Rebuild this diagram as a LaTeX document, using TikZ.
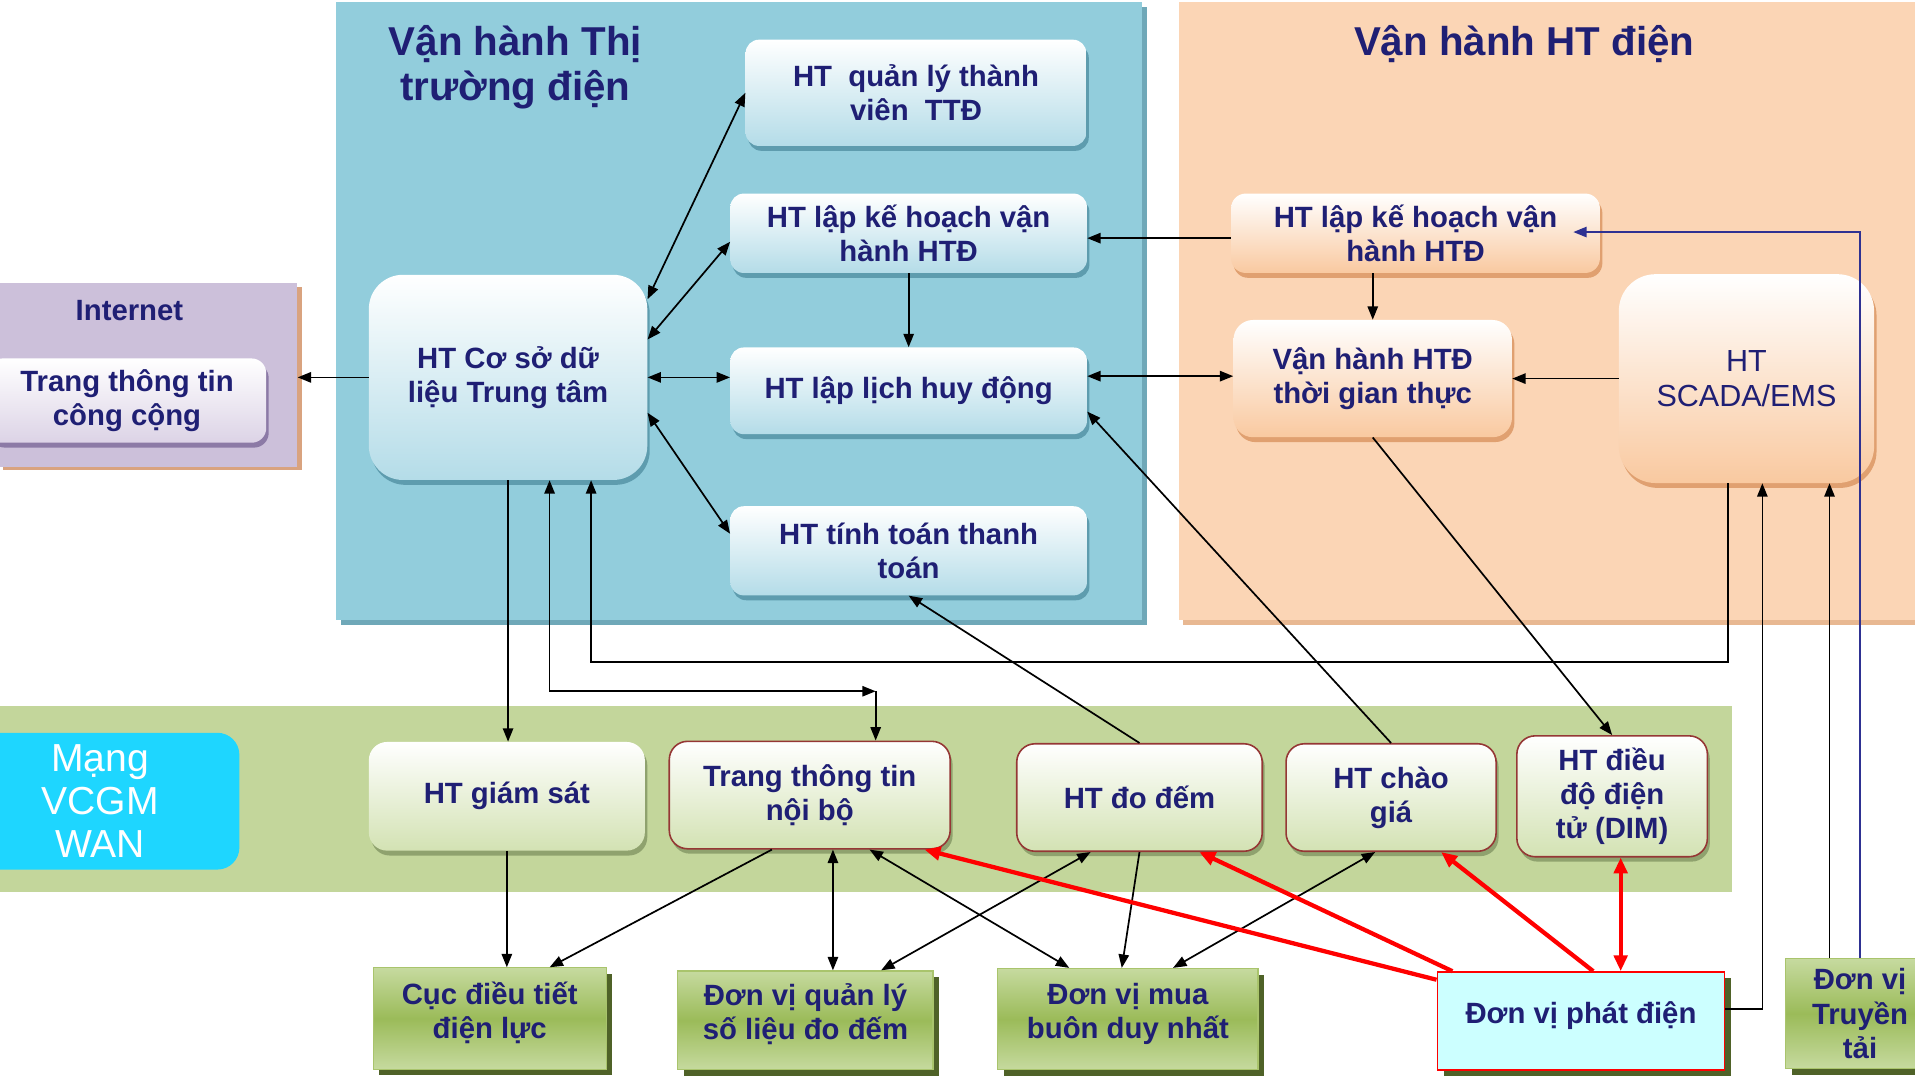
\documentclass[tikz,border=0pt]{standalone}
\usepackage{fontspec}
\setmainfont{Liberation Sans}
\usetikzlibrary{arrows.meta,shadows}
\definecolor{navy}{HTML}{1F1F74}
\definecolor{panelBlue}{HTML}{92CDDC}
\definecolor{panelBlueSh}{HTML}{6FA8B8}
\definecolor{panelOra}{HTML}{FBD5B5}
\definecolor{panelOraSh}{HTML}{E8B892}
\definecolor{panelPur}{HTML}{CCC0DA}
\definecolor{panelPurSh}{HTML}{D9A37F}
\definecolor{band}{HTML}{C3D69B}
\definecolor{mang}{HTML}{1ED6FF}
\definecolor{blueBot}{HTML}{B4DCE8}
\definecolor{blueSh}{HTML}{5E9CAE}
\definecolor{oraBot}{HTML}{F9C9A0}
\definecolor{oraSh}{HTML}{E0A070}
\definecolor{grnBot}{HTML}{D3E2B3}
\definecolor{grnSh}{HTML}{8FA26E}
\definecolor{purBot}{HTML}{DCD3E6}
\definecolor{purSh}{HTML}{8C7AA6}
\definecolor{redBd}{HTML}{953735}
\definecolor{gTop}{HTML}{C6DA9F}
\definecolor{gMid}{HTML}{9BBB59}
\definecolor{gBd}{HTML}{A9C46C}
\definecolor{gSh}{HTML}{4F6228}
\definecolor{pdFill}{HTML}{CCFFFF}
\definecolor{blueLine}{HTML}{2E3192}
\newcommand\boxfnt{\fontsize{24}{28}\selectfont\bfseries}
\newcommand\regfnt{\fontsize{25}{29}\selectfont}
\newcommand\titfnt{\fontsize{33}{37}\selectfont\bfseries}
\newcommand\mangfnt{\fontsize{32}{35}\selectfont}
\newcommand\lowpad{\rule[-14pt]{0pt}{14pt}}
\begin{document}
\begin{tikzpicture}[x=1pt,y=-1pt,
  base/.style={inner sep=2pt, align=center, text=navy, font=\boxfnt},
  panel/.style={inner sep=0pt, draw=none},
  bluebox/.style={base, rounded corners=11pt, top color=white, bottom color=blueBot,
     drop shadow={shadow xshift=2pt, shadow yshift=-4pt, fill=blueSh, opacity=1}},
  orabox/.style={base, rounded corners=12pt, top color=white, bottom color=oraBot,
     drop shadow={shadow xshift=2pt, shadow yshift=-4pt, fill=oraSh, opacity=1}},
  grnbox/.style={base, rounded corners=15pt, top color=white, bottom color=grnBot,
     drop shadow={shadow xshift=2pt, shadow yshift=-4pt, fill=grnSh, opacity=1}},
  redbd/.style={draw=redBd, line width=1.3pt},
  unitbox/.style={base, top color=gTop, bottom color=gTop, middle color=gMid, draw=gBd, line width=1pt,
     drop shadow={shadow xshift=5pt, shadow yshift=-5pt, fill=gSh, opacity=1}},
  arr/.style={draw=black, line width=1.4pt, >={Triangle[length=11pt,width=8.5pt]}},
  rarr/.style={draw=red, line width=3.5pt, >={Triangle[length=13pt,width=11pt]}},
  barr/.style={draw=blueLine, line width=1.5pt, >={Triangle[length=11pt,width=8.5pt]}}
]
\useasboundingbox (0,0) rectangle (1568,882);
\clip (0,0) rectangle (1568,882);
\fill[white] (0,0) rectangle (1568,882);

% panels
\node[panel, fill=panelBlue, minimum width=660pt, minimum height=506pt,
  drop shadow={shadow xshift=4pt, shadow yshift=-4pt, fill=panelBlueSh, opacity=1}] (pblue) at (605,255) {};
\node[panel, fill=panelOra, minimum width=620pt, minimum height=506pt,
  drop shadow={shadow xshift=4pt, shadow yshift=-4pt, fill=panelOraSh, opacity=1}] (pora) at (1275,255) {};
\node[panel, fill=panelPur, minimum width=245pt, minimum height=150pt,
  drop shadow={shadow xshift=4pt, shadow yshift=-3pt, fill=panelPurSh, opacity=1}] (inet) at (121,307) {};
\node[panel, fill=band, minimum width=1418pt, minimum height=152pt] (bandp) at (709,654) {};

% titles
\node[base, font=\titfnt] (t1) at (422,55) {Vận hành Thị\\trường điện};
\node[base, font=\titfnt] (t2) at (1248,36) {Vận hành HT điện};
\node[base] (inetlbl) at (106,254) {Internet};

% internet box
\node[base, rounded corners=12pt, top color=white, bottom color=purBot, minimum width=228pt, minimum height=69pt,
  drop shadow={shadow xshift=2pt, shadow yshift=-4pt, fill=purSh, opacity=1}] (ttcc) at (104,328) {Trang thông tin\\công cộng};

% Mang box
\node[rounded corners=18pt, fill=mang, text=white, font=\mangfnt, align=center, minimum width=228pt, minimum height=112pt] (mangb) at (82,656) {Mạng\\VCGM\\WAN};

% blue panel boxes
\node[bluebox, minimum width=279pt, minimum height=87pt] (ql) at (750,76) {HT\ \ quản lý thành\\viên\ \ TTĐ};
\node[bluebox, minimum width=292pt, minimum height=65pt] (kh1) at (744,191) {HT lập kế hoạch vận\\hành HTĐ};
\node[bluebox, minimum width=292pt, minimum height=71pt] (lich) at (744,320) {HT lập lịch huy động};
\node[bluebox, minimum width=292pt, minimum height=73pt] (tt) at (744,451) {HT tính toán thanh\\toán};
\node[bluebox, rounded corners=28pt, minimum width=228pt, minimum height=168pt] (db) at (416,309) {HT Cơ sở dữ\\liệu Trung tâm};

% orange panel boxes
\node[orabox, minimum width=302pt, minimum height=65pt] (kh2) at (1159,191) {HT lập kế hoạch vận\\hành HTĐ};
\node[orabox, rounded corners=16pt, minimum width=228pt, minimum height=96pt] (vh) at (1124,310) {Vận hành HTĐ\\thời gian thực};
\node[orabox, rounded corners=30pt, font=\regfnt, minimum width=209pt, minimum height=171pt] (scada) at (1430,310) {HT\\SCADA/EMS};

% band boxes
\node[grnbox, minimum width=226pt, minimum height=89pt] (gs) at (415,652) {HT giám sát};
\node[grnbox, redbd, minimum width=230pt, minimum height=88pt] (ttnb) at (663,651) {Trang thông tin\\nội bộ};
\node[grnbox, redbd, minimum width=201pt, minimum height=88pt] (dd) at (933,653) {HT đo đếm};
\node[grnbox, redbd, minimum width=172pt, minimum height=88pt] (cg) at (1139,653) {HT chào\\giá};
\node[grnbox, redbd, minimum width=156pt, minimum height=99pt] (dim) at (1320,652) {HT điều\\độ điện\\tử (DIM)};

% bottom unit boxes
\node[unitbox, minimum width=191pt, minimum height=83pt] (cuc) at (401,834) {Cục điều tiết\\điện lực\lowpad};
\node[unitbox, minimum width=209pt, minimum height=81pt] (qlsl) at (659.5,835.5) {Đơn vị quản lý\\số liệu đo đếm\lowpad};
\node[unitbox, minimum width=213pt, minimum height=83pt] (mua) at (923.5,834.5) {Đơn vị mua\\buôn duy nhất\lowpad};
\node[base, fill=pdFill, draw=red, line width=1.6pt, minimum width=235pt, minimum height=80pt,
  drop shadow={shadow xshift=5pt, shadow yshift=-5pt, fill=gSh, opacity=1}] (pd) at (1294.5,836) {Đơn vị phát điện\lowpad};
\node[unitbox, minimum width=122pt, minimum height=90pt] (tr) at (1523,830) {Đơn vị\\Truyền\\tải};

% connectors (black)
\draw[arr,->] (db.west) -- (db.west -| inet.east);
\draw[arr,<->] ([yshift=64pt]db.east) -- (ql.west);
\draw[arr,<->] ([yshift=31pt]db.east) -- ([yshift=-7pt]kh1.west);
\draw[arr,<->] (db.east) -- (db.east -| lich.west);
\draw[arr,<->] ([yshift=-29pt]db.east) -- ([yshift=14pt]tt.west);
\draw[arr,->] (kh1.south) -- (lich.north);
\draw[arr,->] ([yshift=-4pt]kh2.west) -- ([yshift=-4pt]kh2.west -| kh1.east);
\draw[arr,<->] ([yshift=12pt]lich.east) -- ([yshift=12pt]lich.east -| vh.west);
\draw[arr,->] (vh.north |- kh2.south) -- (vh.north);
\draw[arr,->] (scada.west) -- (scada.west -| vh.east);
\draw[arr,->] (vh.south) -- (dim.north);
\draw[arr,->] (cg.north) -- ([yshift=-17pt]lich.east);
\draw[arr,->] (dd.north) -- (tt.south);
\draw[arr,->] ([xshift=-15pt]scada.south) -- ([xshift=-15pt]scada.south |- 0,542) -| ([xshift=68pt]db.south);
\draw[arr,<->] ([xshift=34pt]db.south) |- (0,566 -| ttnb.north) -- ++(54,0) coordinate (c1);
\draw[arr,->] (c1) -- ([xshift=54pt]ttnb.north);
\draw[arr,->] (db.south) -- (db.south |- gs.north);
\draw[arr,->] (gs.south) -- (gs.south |- cuc.north);
\draw[arr,->] ([xshift=-31pt]ttnb.south) -- ([xshift=49pt]cuc.north);
\draw[arr,<->] ([xshift=19pt]ttnb.south) -- ([xshift=19pt]ttnb.south |- qlsl.north);
\draw[arr,<->] ([xshift=49pt]ttnb.south) -- ([xshift=-48pt]mua.north);
\draw[arr,<->] ([xshift=-40pt]dd.south) -- ([xshift=62pt]qlsl.north);
\draw[arr,->] (dd.south) -- ([xshift=-5pt]mua.north);
\draw[arr,<->] ([xshift=-13pt]cg.south) -- ([xshift=37pt]mua.north);
\draw[arr,->] ([yshift=10pt]pd.east) -| ([xshift=13pt]scada.south);
\draw[arr,->] ([xshift=-25pt]tr.north) -- ([xshift=-25pt]tr.north |- scada.south);

% blue connector
\draw[barr,->] (tr.north) |- ([xshift=-22pt,yshift=1pt]kh2.east);

% red connectors
\draw[rarr,->] ([yshift=-7pt]pd.north west) -- ([xshift=94pt]ttnb.south);
\draw[rarr,->] ([xshift=13pt]pd.north west) -- ([xshift=49pt]dd.south);
\draw[rarr,->] ([xshift=10pt]pd.north) -- ([xshift=41pt]cg.south);
\draw[rarr,<->] ([xshift=7pt]dim.south) -- ([xshift=7pt]dim.south |- pd.north);
\end{tikzpicture}
\end{document}
